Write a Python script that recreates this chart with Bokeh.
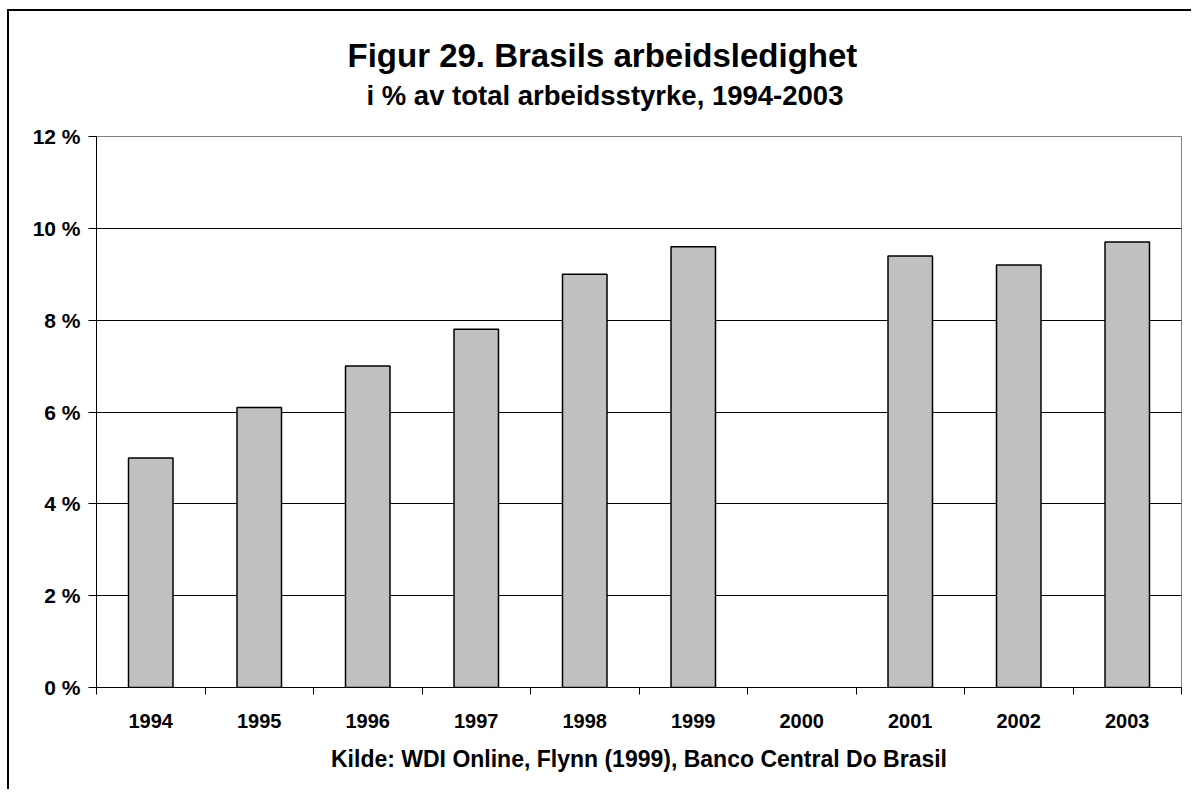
from bokeh.plotting import figure
from bokeh.models import FixedTicker, Title, Range1d, ColumnDataSource
from bokeh.embed import file_html
from bokeh.resources import INLINE

# ---- data ----
years = ["1994", "1995", "1996", "1997", "1998", "1999", "2000", "2001", "2002", "2003"]
unemployment_pct = [5.0, 6.1, 7.0, 7.8, 9.0, 9.6, None, 9.4, 9.2, 9.7]
y_ticks = [0, 2, 4, 6, 8, 10, 12]
y_tick_labels = ["0 %", "2 %", "4 %", "6 %", "8 %", "10 %", "12 %"]

title_text = "Figur 29. Brasils arbeidsledighet"
subtitle_text = "i % av total arbeidsstyrke, 1994-2003"
source_text = "Kilde: WDI Online, Flynn (1999), Banco Central Do Brasil"

FONT = "Liberation Sans"

# ---- bars ----
xs = [i for i, v in enumerate(unemployment_pct) if v is not None]
tops = [v for v in unemployment_pct if v is not None]
src = ColumnDataSource(dict(x=xs, top=tops))

p = figure(width=1184, height=780, output_backend="svg", toolbar_location=None,
           title=None,
           x_range=Range1d(-0.5, len(years) - 0.5), y_range=Range1d(0, 12),
           min_border_left=87, min_border_right=12, min_border_top=125, min_border_bottom=104)

p.styles = {"margin-left": "7px", "margin-top": "9px",
            "border-left": "2px solid black", "border-top": "2px solid black"}

p.vbar(x="x", top="top", width=0.41, bottom=0, source=src,
       fill_color="#C0C0C0", line_color="black", line_width=1.5)

# ---- titles (stacked outward from the frame) ----
p.add_layout(Title(text=" ", text_font_size="10px", standoff=12), "above")  # spacer
p.add_layout(Title(text=subtitle_text, align="left", offset=270,
                   text_font=FONT, text_font_style="bold", text_font_size="27.5px",
                   text_color="black", standoff=1), "above")
p.add_layout(Title(text=title_text, align="left", offset=251,
                   text_font=FONT, text_font_style="bold", text_font_size="33px",
                   text_color="black", standoff=7), "above")

# ---- axes ----
xa = p.xaxis[0]
xa.ticker = FixedTicker(ticks=list(range(len(years))),
                        minor_ticks=[i - 0.5 for i in range(len(years) + 1)])
xa.major_label_overrides = {i: y for i, y in enumerate(years)}
xa.major_tick_out = 0
xa.major_tick_in = 0
xa.minor_tick_out = 7
xa.minor_tick_in = 0
xa.minor_tick_line_color = "black"
xa.axis_line_color = "black"
xa.major_label_standoff = 19
xa.major_label_text_font = FONT
xa.major_label_text_font_style = "bold"
xa.major_label_text_font_size = "20px"
xa.major_label_text_color = "black"
xa.axis_label = source_text
xa.axis_label_text_font = FONT
xa.axis_label_text_font_style = "bold"
xa.axis_label_text_font_size = "23px"
xa.axis_label_text_color = "black"
xa.axis_label_standoff = 15

ya = p.yaxis[0]
ya.ticker = FixedTicker(ticks=y_ticks)
ya.major_label_overrides = {t: l for t, l in zip(y_ticks, y_tick_labels)}
ya.major_tick_out = 8
ya.major_tick_in = 0
ya.minor_tick_out = 0
ya.minor_tick_in = 0
ya.major_tick_line_color = "black"
ya.axis_line_color = "black"
ya.major_label_standoff = 8
ya.major_label_text_font = FONT
ya.major_label_text_font_style = "bold"
ya.major_label_text_font_size = "21px"
ya.major_label_text_color = "black"

# ---- grid / outline ----
p.xgrid.grid_line_color = None
p.ygrid.ticker = FixedTicker(ticks=y_ticks[1:-1])
p.ygrid.grid_line_color = "black"
p.ygrid.grid_line_width = 1
p.outline_line_color = "#808080"
p.outline_line_width = 1
p.background_fill_color = "white"
p.border_fill_color = "white"

open("out.html", "w").write(file_html(p, INLINE))
